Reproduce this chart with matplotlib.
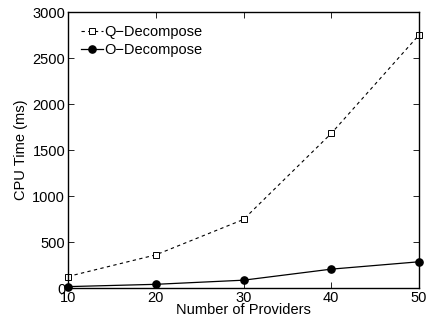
import matplotlib
matplotlib.use("Agg")
import matplotlib.pyplot as plt

providers = [10, 20, 30, 40, 50]
q_decompose = [125, 360, 745, 1680, 2750]
o_decompose = [15, 40, 85, 205, 285]
yticks = [0, 500, 1000, 1500, 2000, 2500, 3000]

plt.rcParams['font.family'] = ['Liberation Sans', 'DejaVu Sans']

fig = plt.figure(figsize=(4.29, 3.24), dpi=100)
ax = fig.add_axes([68/429, 36/324, 351/429, 276/324])

ax.plot(providers, q_decompose, linestyle='--', color='black', linewidth=0.8,
        marker='s', markersize=4, markerfacecolor='white', markeredgecolor='black',
        markeredgewidth=0.7, label='Q\u2212Decompose', dashes=(3, 3))
ax.plot(providers, o_decompose, linestyle='-', color='black', linewidth=0.9,
        marker='o', markersize=5.2, markerfacecolor='black', label='O\u2212Decompose')

ax.set_xlim(10, 50)
ax.set_ylim(0, 3000)
ax.set_xticks(providers)
ax.set_yticks(yticks)
ax.tick_params(direction='in', top=True, right=True, labelsize=10.5, length=4, width=0.6, pad=2)
for s in ax.spines.values():
    s.set_linewidth(1.0)
ax.set_xlabel('Number of Providers', fontsize=10.5, labelpad=-1)
ax.set_ylabel('CPU Time (ms)', fontsize=10.5, labelpad=3)

leg = ax.legend(loc='upper left', frameon=False, fontsize=10.5, handlelength=1.5,
                handletextpad=0.1, borderaxespad=0.5, labelspacing=0.25,
                borderpad=0.4)

for l in ax.get_lines():
    l.set_clip_on(False)

fig.savefig('out.png', dpi=100)
